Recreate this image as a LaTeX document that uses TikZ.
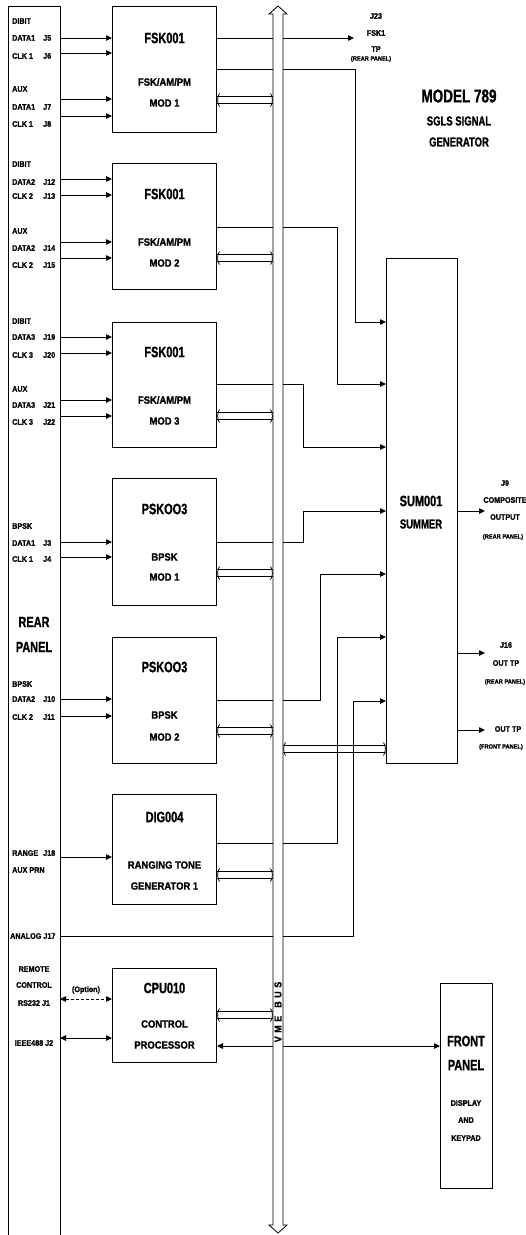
\documentclass[tikz,border=0pt]{standalone}
\usepackage{fontspec}
\setmainfont{Liberation Sans}[FakeStretch=0.9, BoldFeatures={FakeBold=1.2}]
\newfontfamily\headfont{Liberation Sans}[FakeStretch=0.73, BoldFeatures={FakeBold=1}]
\usetikzlibrary{arrows.meta, calc}

\tikzset{
  wire/.style={line width=0.8pt},
  wtip/.tip={Triangle[length=6pt, width=5.5pt]},
  module/.style={draw, line width=1pt, anchor=north west, inner sep=0pt, minimum width=104pt},
  title/.style={font=\headfont\bfseries\fontsize{18.5}{18.5}\selectfont, inner sep=0pt},
  head/.style={font=\headfont\bfseries\fontsize{15}{15}\selectfont, inner sep=0pt},
  headsm/.style={font=\headfont\bfseries\fontsize{13}{13}\selectfont, inner sep=0pt},
  sub/.style={font=\bfseries\fontsize{10.5}{10.5}\selectfont, inner sep=0pt},
  lbl/.style={font=\bfseries\fontsize{8}{8}\selectfont, inner sep=0pt},
  tinylbl/.style={font=\bfseries\fontsize{6.3}{6.3}\selectfont, inner sep=0pt},
}

% link between a board and the VME bus
\newcommand{\buslink}[2]{%
  \draw[wire] ($(#1)+(0,-3.5)$) -- ($(#2)+(0,-3.5)$)
              ($(#1)+(0,3.5)$) -- ($(#2)+(0,3.5)$);
  \draw[wire] ($(#1)+(2.5,-6.5)$) .. controls ($(#1)+(0,-4)$) and ($(#1)+(0,4)$) .. ($(#1)+(2.5,6.5)$);
  \draw[wire] ($(#2)+(-2.5,-6.5)$) .. controls ($(#2)+(0,-4)$) and ($(#2)+(0,4)$) .. ($(#2)+(-2.5,6.5)$);
}

\begin{document}
\begin{tikzpicture}[x=1pt, y=-1pt]
  \useasboundingbox (0,0) rectangle (526,1235);

  % Rear panel
  \draw[line width=1pt] (8,1235) -- (8,6) -- (60,6) -- (60,1235);
  \coordinate (rearE) at (60,0);
  \node[head] (rear) at (34,622) {REAR};
  \node[head] (rearb) at (34,647) {PANEL};

  % VME bus edges
  \coordinate (busW) at (273,0);
  \coordinate (busE) at (283,0);

  % Boards
  \foreach \nm/\yt/\hgt/\ttl/\lineA/\lineB/\ya/\yb/\yc in {
      fskA/6/126/FSK001/{FSK/AM/PM}/MOD 1/32/76/97,
      fskB/163/126/FSK001/{FSK/AM/PM}/MOD 2/31/79/100,
      fskC/322/125/FSK001/{FSK/AM/PM}/MOD 3/30/78/99,
      pskA/478/127/PSKOO3/BPSK/MOD 1/31/79/99,
      pskB/637/126/PSKOO3/BPSK/MOD 2/30/78/100,
      dig/794/110/DIG004/RANGING TONE/GENERATOR 1/23/71/92,
      cpu/968/94/CPU010/CONTROL/PROCESSOR/20/56/77} {
    \node[module, minimum height=\hgt*1pt] (\nm) at (112,\yt) {};
    \node[head] (\nm-a) at ($(\nm.north)+(0,\ya)$) {\ttl};
    \node[sub] (\nm-b) at ($(\nm.north)+(0,\yb)$) {\lineA};
    \node[sub] (\nm-c) at ($(\nm.north)+(0,\yc)$) {\lineB};
  }

  % Summer and front panel
  \node[module, minimum width=71pt, minimum height=505pt] (sum) at (386,258) {};
  \node[head] (sum-a) at (421,501) {SUM001};
  \node[headsm] (sum-b) at (421,524) {SUMMER};
  \node[module, minimum width=52pt, minimum height=205pt] (front) at (440,983) {};
  \node[head] (front-a) at (466,1041) {FRONT};
  \node[head] (front-b) at (466,1065) {PANEL};
  \node[lbl] (front-c) at (466,1103) {DISPLAY};
  \node[lbl] (front-d) at (466,1120) {AND};
  \node[lbl] (front-e) at (466,1138) {KEYPAD};

  % Model name
  \node[title] (model) at (459,96) {MODEL 789};
  \node[headsm] (modelb) at (459,121) {SGLS SIGNAL};
  \node[headsm] (modelc) at (459,142) {GENERATOR};

  % Input groups
  \foreach \y/\txt [count=\i] in {21/DIBIT, 89/AUX, 164/DIBIT, 231/AUX,
      321/DIBIT, 389/AUX, 526/BPSK, 684/BPSK, 870/AUX PRN}
    \node[lbl, anchor=west] (grp\i) at (12,\y) {\txt};

  % Input signals
  \foreach \ty/\ay/\sig/\jack/\mod in {
      38/38/DATA1/J5/fskA, 56/53/CLK 1/J6/fskA, 107/99/DATA1/J7/fskA, 124/116/CLK 1/J8/fskA,
      182/179/DATA2/J12/fskB, 196/195/CLK 2/J13/fskB, 248/242/DATA2/J14/fskB, 265/258/CLK 2/J15/fskB,
      337/337/DATA3/J19/fskC, 355/353/CLK 3/J20/fskC, 405/400/DATA3/J21/fskC, 422/416/CLK 3/J22/fskC,
      543/542/DATA1/J3/pskA, 559/557/CLK 1/J4/pskA,
      699/699/DATA2/J10/pskB, 717/716/CLK 2/J11/pskB,
      853/857/RANGE/J18/dig} {
    \node[lbl, anchor=west] (in\jack) at (12,\ty) {\makebox[31pt][l]{\sig}\jack};
    \draw[wire, -{wtip}] (rearE |- 0,\ay) -- (\mod.west |- 0,\ay);
  }

  % Remote control
  \node[lbl] (remote) at (34,969) {REMOTE};
  \node[lbl] (remoteb) at (34,985) {CONTROL};
  \node[lbl] (rs232) at (34,1003) {RS232 J1};
  \node[lbl] (option) at (86,990) {(Option)};
  \draw[wire, dash pattern=on 3pt off 2pt, {wtip}-{wtip}] (rearE |- 0,999) -- (cpu.west |- 0,999);
  \node[lbl] (ieee) at (34,1043) {IEEE488 J2};
  \draw[wire, {wtip}-{wtip}] (rearE |- 0,1038) -- (cpu.west |- 0,1038);

  % FSK1 test point
  \coordinate (jFSK) at (354,38);
  \draw[wire, -{wtip}] (fskA.east |- 0,38) -- (jFSK);
  \node[lbl] (j23) at (376,16) {J23};
  \node[lbl] (j23b) at (376,33) {FSK1};
  \node[lbl] (j23c) at (376,49) {TP};
  \node[tinylbl] (j23d) at (371,59) {(REAR PANEL)};

  % Signals into the summer
  \foreach \mod/\oy/\xx/\iy in {fskA/69/355/322, fskB/227/337/384, fskC/384/303/447,
      pskA/542/303/511, pskB/700/320/574, dig/843/337/637}
    \draw[wire, -{wtip}] (\mod.east |- 0,\oy) -- (\xx,\oy) -- (\xx,\iy) -- (sum.west |- 0,\iy);
  \node[lbl, anchor=west] (analog) at (10,936) {ANALOG J17};
  \draw[wire, -{wtip}] (rearE |- 0,936) -- (353,936) -- (353,701) -- (sum.west |- 0,701);

  % Summer outputs
  \foreach \y/\nm in {511/jComp, 653/jOut, 730/jFront} {
    \coordinate (\nm) at (485,\y);
    \draw[wire, -{wtip}] (sum.east |- 0,\y) -- (\nm);
  }
  \node[lbl] (j9) at (505,483) {J9};
  \node[lbl] (j9b) at (505,500) {COMPOSITE};
  \node[lbl] (j9c) at (505,517) {OUTPUT};
  \node[tinylbl] (j9d) at (503,537) {(REAR PANEL)};
  \node[lbl] (j16) at (506,645) {J16};
  \node[lbl] (j16b) at (506,663) {OUT TP};
  \node[tinylbl] (j16c) at (505,682) {(REAR PANEL)};
  \node[lbl] (otp) at (508,729) {OUT TP};
  \node[tinylbl] (otpb) at (501,747) {(FRONT PANEL)};

  % CPU to front panel
  \draw[wire, {wtip}-{wtip}] (cpu.east |- 0,1046) -- (front.west |- 0,1046);

  % Bus links
  \foreach \mod/\y in {fskA/100, fskB/258, fskC/416, pskA/573, pskB/731, dig/875, cpu/1015}
    \buslink{\mod.east |- 0,\y}{busW |- 0,\y};
  \buslink{busE |- 0,749}{sum.west |- 0,749};

  % VME bus
  \draw[wire, fill=white] (273,14) -- (269,14) -- (278,6) -- (287,14) -- (283,14)
    -- (283,1225) -- (287,1225) -- (278,1233) -- (269,1225) -- (273,1225) -- cycle;
  \node[lbl, font=\bfseries\fontsize{10}{10}\selectfont, rotate=90] (vme) at (278,1012)
    {V\hspace{3.5pt}M\hspace{3.5pt}E\hspace{8pt}B\hspace{3.5pt}U\hspace{3.5pt}S};
\end{tikzpicture}
\end{document}
